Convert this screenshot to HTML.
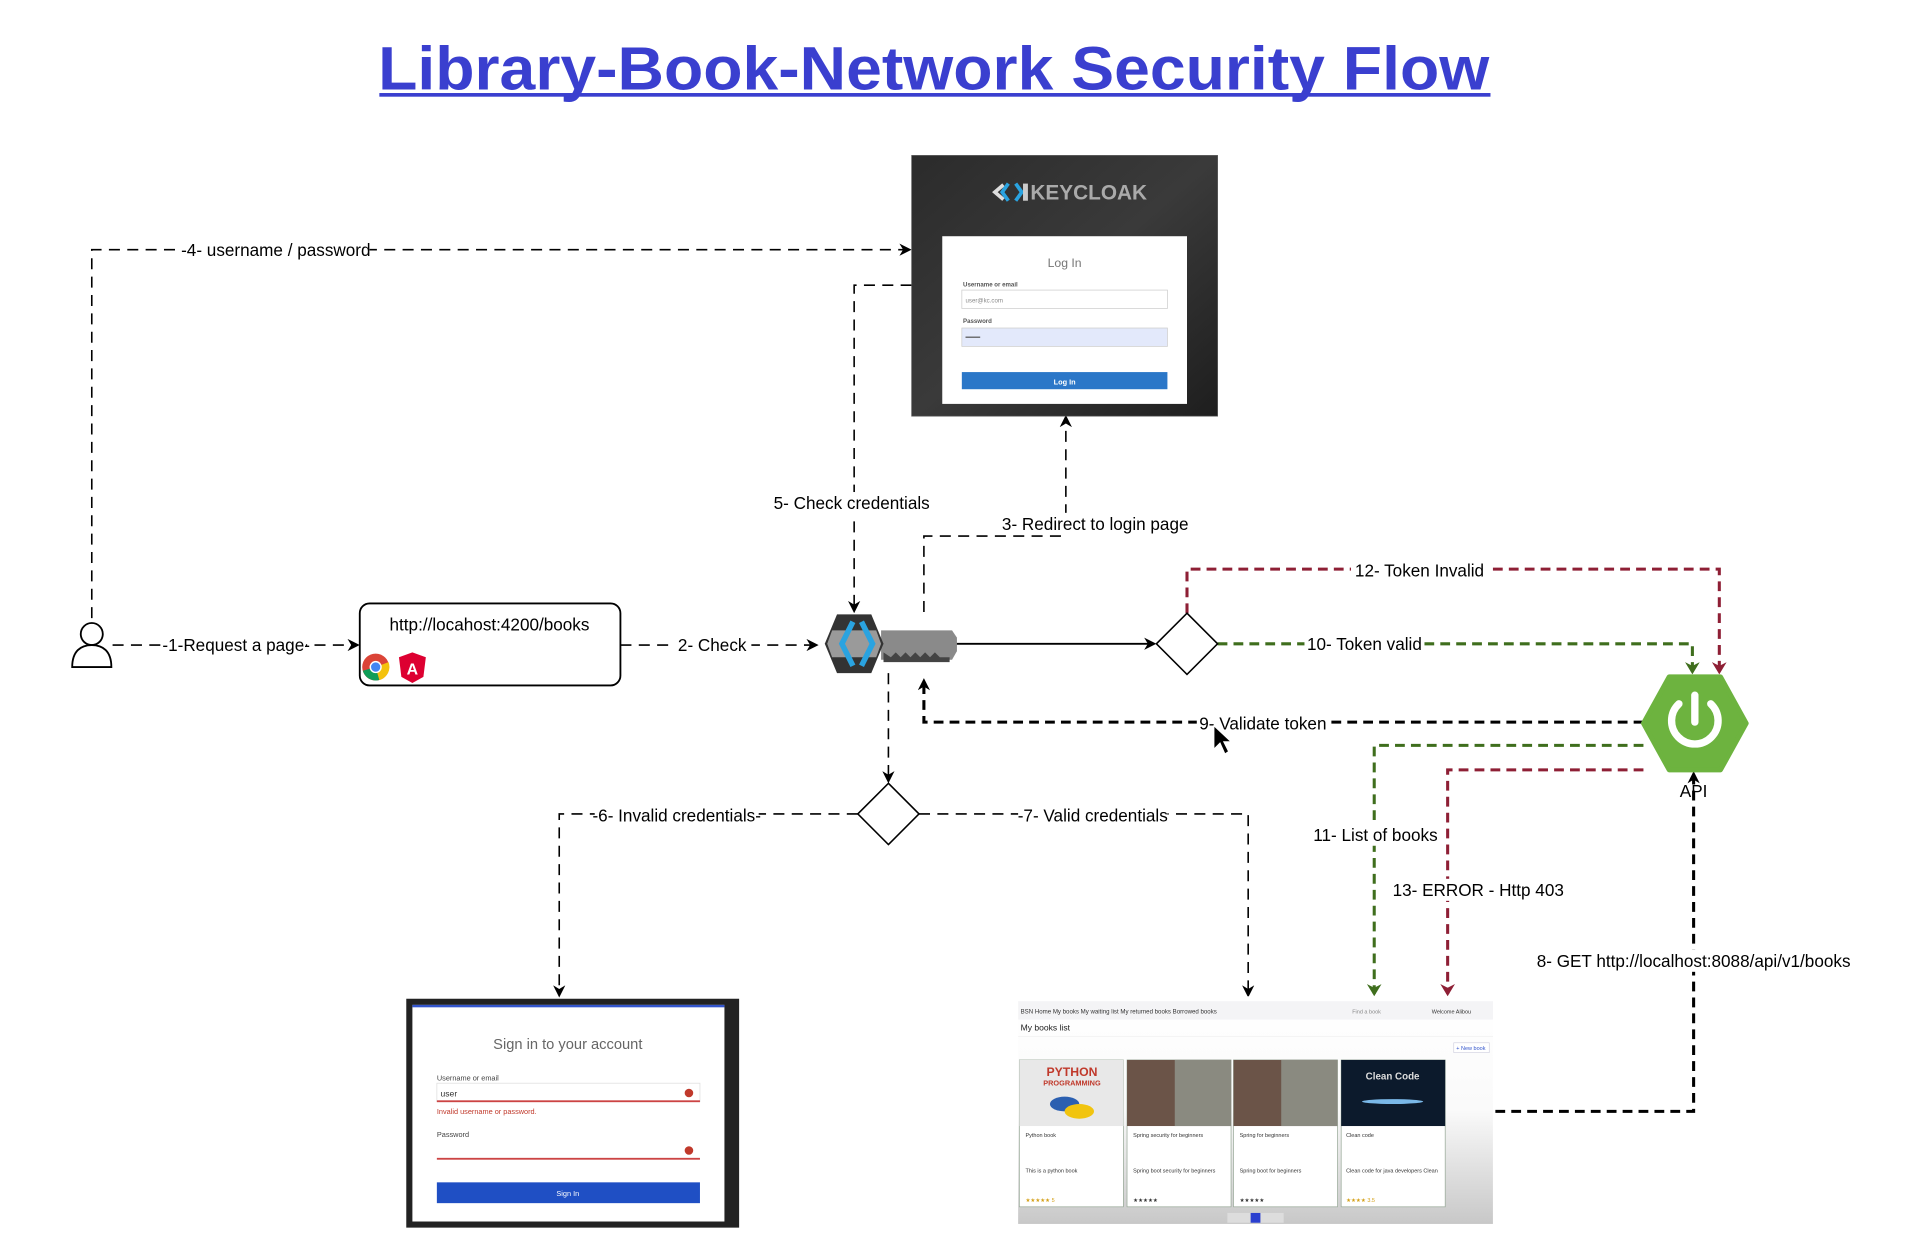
<!DOCTYPE html>
<html><head><meta charset="utf-8"><style>
html,body{margin:0;padding:0;background:#fff;}
svg{display:block}
text{font-family:"Liberation Sans",sans-serif;}
</style></head><body>
<svg width="1920" height="1257" viewBox="0 0 1569 1027" preserveAspectRatio="none" xmlns="http://www.w3.org/2000/svg">
<defs>
<marker id="ab" markerWidth="10" markerHeight="10" refX="8" refY="5" orient="auto" markerUnits="userSpaceOnUse"><path d="M0,0 L10,5 L0,10 L3,5 z" fill="#000"/></marker>
<marker id="ag" markerWidth="10" markerHeight="12" refX="8" refY="6" orient="auto" markerUnits="userSpaceOnUse"><path d="M0,0 L10,6 L0,12 L3,6 z" fill="#3f6e1d"/></marker>
<marker id="ar" markerWidth="10" markerHeight="12" refX="8" refY="6" orient="auto" markerUnits="userSpaceOnUse"><path d="M0,0 L10,6 L0,12 L3,6 z" fill="#8e1f35"/></marker>
<linearGradient id="kc" x1="0" y1="0" x2="1" y2="1"><stop offset="0" stop-color="#2b2b2b"/><stop offset="0.5" stop-color="#3a3a3a"/><stop offset="1" stop-color="#1e1e1e"/></linearGradient>
<linearGradient id="bk" x1="0" y1="0" x2="0" y2="1"><stop offset="0" stop-color="#fff"/><stop offset="0.5" stop-color="#fafafa"/><stop offset="1" stop-color="#c8c8c8"/></linearGradient>
</defs>

<!-- Title -->
<text x="763" y="73" text-anchor="middle" font-size="50" font-weight="bold" fill="#3a3fcf" textLength="908" lengthAdjust="spacingAndGlyphs">Library-Book-Network Security Flow</text>
<rect x="310" y="76" width="908" height="3" fill="#3a3fcf"/>

<g font-size="14" fill="#000">
<g fill="none" stroke="#000" stroke-width="1.3" stroke-dasharray="9,6">
<path d="M75,505 V204 H743" marker-end="url(#ab)"/>
<path d="M92,527 H292" marker-end="url(#ab)"/>
<path d="M507,527 H667" marker-end="url(#ab)"/>
<path d="M755,500 V438 H871 V341" marker-end="url(#ab)"/>
<path d="M745,233 H698 V499" marker-end="url(#ab)"/>
<path d="M726,550 V638" marker-end="url(#ab)"/>
<path d="M701,665 H457 V813" marker-end="url(#ab)"/>
<path d="M751,665 H1020 V813" marker-end="url(#ab)"/>
</g>
<path d="M780,526 H943" stroke="#000" stroke-width="1.5" fill="none" marker-end="url(#ab)"/>
<g fill="none" stroke="#000" stroke-width="2.5" stroke-dasharray="8,5">
<path d="M1343,590 H755 V556" marker-end="url(#ab)"/>
<path d="M1222,908 H1384 V632" marker-end="url(#ab)"/>
</g>
<g fill="none" stroke-width="2.5" stroke-dasharray="8,5">
<path d="M995,526 H1383 V549" stroke="#3f6e1d" marker-end="url(#ag)"/>
<path d="M970,501 V465 H1405 V549" stroke="#8e1f35" marker-end="url(#ar)"/>
<path d="M1343,609 H1123 V812" stroke="#3f6e1d" marker-end="url(#ag)"/>
<path d="M1343,629 H1183 V812" stroke="#8e1f35" marker-end="url(#ar)"/>
</g>

<g font-size="14">
<rect x="146" y="195" width="156" height="18" fill="#fff"/><text x="148" y="209">-4- username / password</text>
<rect x="136" y="518" width="114" height="18" fill="#fff"/><text x="193" y="532" text-anchor="middle">-1-Request a page-</text>
<rect x="550" y="518" width="64" height="18" fill="#fff"/><text x="582" y="532" text-anchor="middle">2- Check</text>
<rect x="632" y="402" width="130" height="18" fill="#fff"/><text x="696" y="416" text-anchor="middle">5- Check credentials</text>
<rect x="818" y="419" width="154" height="18" fill="#fff"/><text x="895" y="433" text-anchor="middle">3- Redirect to login page</text>
<rect x="1104" y="457" width="112" height="18" fill="#fff"/><text x="1160" y="471" text-anchor="middle">12- Token Invalid</text>
<rect x="1066" y="517" width="98" height="18" fill="#fff"/><text x="1115" y="531" text-anchor="middle">10- Token valid</text>
<rect x="978" y="582" width="108" height="18" fill="#fff"/><text x="1032" y="596" text-anchor="middle">9- Validate token</text>
<rect x="486" y="657" width="134" height="18" fill="#fff"/><text x="553" y="671" text-anchor="middle">-6- Invalid credentials-</text>
<rect x="832" y="657" width="122" height="18" fill="#fff"/><text x="893" y="671" text-anchor="middle">-7- Valid credentials</text>
<rect x="1072" y="673" width="104" height="18" fill="#fff"/><text x="1124" y="687" text-anchor="middle">11- List of books</text>
<rect x="1137" y="718" width="142" height="18" fill="#fff"/><text x="1208" y="732" text-anchor="middle">13- ERROR - Http 403</text>
<rect x="1256" y="776" width="256" height="18" fill="#fff"/><text x="1384" y="790" text-anchor="middle">8- GET http://localhost:8088/api/v1/books</text>
<text x="1384" y="651" text-anchor="middle">API</text>
</g>
</g>

<path d="M992,593 L992,612 L997,607 L1001,616 L1004,614 L1000,606 L1006,606 z" fill="#000" stroke="#fff" stroke-width="0.8"/>

<circle cx="75" cy="518" r="9" fill="#fff" stroke="#000" stroke-width="1.5"/>
<path d="M59,545 C59,532 66,527 75,527 C84,527 91,532 91,545 z" fill="#fff" stroke="#000" stroke-width="1.5"/>

<rect x="294" y="493" width="213" height="67" rx="8" fill="#fff" stroke="#000" stroke-width="1.5"/>
<text x="400" y="515" text-anchor="middle" font-size="14">http://locahost:4200/books</text>
<circle cx="307" cy="545" r="11" fill="#db4437"/>
<path d="M307,545 L296.5,548 A11,11 0 0 0 310,555.6 z" fill="#0f9d58"/>
<path d="M307,545 L310,555.6 A11,11 0 0 0 317.5,541 z" fill="#f4c20d"/>
<circle cx="307" cy="545" r="5" fill="#fff"/><circle cx="307" cy="545" r="3.8" fill="#4285f4"/>
<path d="M337,533 L348,537 L346,553 L337,558 L328,553 L326,537 z" fill="#dd0031"/>
<text x="337" y="551" text-anchor="middle" font-size="13" fill="#fff" font-weight="bold">A</text>

<path d="M720,515 H778 L782,521 V532 L778,539 H720 z" fill="#8a8a8a"/>
<path d="M722,533 L728,537 L732,533 L736,537 L740,533 L744,537 L748,533 L752,537 L756,533 L760,537 L764,533 L768,537 H776 V541 H722 z" fill="#444"/>
<path d="M684,502 H712 L722,526 L712,550 H684 L674,526 z" fill="#333"/>
<path d="M680,515 H716 L720,526 L716,537 H680 L676,526 z" fill="#9a9a9a"/>
<path d="M697,508 L688,526 L697,544" fill="none" stroke="#2aa3e0" stroke-width="4.5"/>
<path d="M704,508 L713,526 L704,544" fill="none" stroke="#2aa3e0" stroke-width="4.5"/>

<path d="M970,501 L995,526 L970,551 L945,526 z" fill="#fff" stroke="#000" stroke-width="1.3"/>
<path d="M726,640 L751,665 L726,690 L701,665 z" fill="#fff" stroke="#000" stroke-width="1.3"/>

<path d="M1364,553 H1406 L1427,591 L1406,629 H1364 L1343,591 z" fill="#6db33f" stroke="#6db33f" stroke-width="4" stroke-linejoin="round"/>
<path d="M1372,575 A19,19 0 1 0 1398,575" fill="none" stroke="#fff" stroke-width="6" stroke-linecap="round"/>
<line x1="1385" y1="568" x2="1385" y2="590" stroke="#fff" stroke-width="6" stroke-linecap="round"/>

<rect x="745" y="127" width="250" height="213" fill="url(#kc)" stroke="#555" stroke-width="0.6"/>
<path d="M820,151 L813,157 L820,163" fill="none" stroke="#ddd" stroke-width="3"/>
<path d="M824,150 L819,157 L824,164" fill="none" stroke="#2aa3e0" stroke-width="3"/>
<path d="M830,150 L835,157 L830,164" fill="none" stroke="#2aa3e0" stroke-width="3"/>
<rect x="836" y="150" width="4" height="14" fill="#ccc"/>
<text x="842" y="163" font-size="17" font-weight="bold" fill="#aaa">KEYCLOAK</text>
<rect x="770" y="193" width="200" height="137" fill="#fff"/>
<text x="870" y="218" text-anchor="middle" font-size="10" fill="#777">Log In</text>
<text x="787" y="234" font-size="5" fill="#555" font-weight="bold">Username or email</text>
<rect x="786" y="237" width="168" height="15" fill="#fff" stroke="#ccc" stroke-width="0.6"/>
<text x="789" y="247" font-size="5" fill="#888">user@kc.com</text>
<text x="787" y="264" font-size="5" fill="#555" font-weight="bold">Password</text>
<rect x="786" y="268" width="168" height="15" fill="#e3e9fb" stroke="#ccc" stroke-width="0.6"/>
<rect x="789" y="275" width="12" height="1" fill="#555"/>
<rect x="786" y="304" width="168" height="14" fill="#2b77c8"/>
<text x="870" y="314" text-anchor="middle" font-size="6" fill="#fff" font-weight="bold">Log In</text>

<rect x="332" y="816" width="272" height="187" fill="#222"/>
<rect x="337" y="821" width="255" height="177" fill="#fff"/>
<rect x="337" y="821" width="255" height="2" fill="#3355cc"/>
<text x="464" y="857" text-anchor="middle" font-size="12" fill="#666">Sign in to your account</text>
<text x="357" y="883" font-size="6" fill="#444">Username or email</text>
<rect x="357" y="885" width="215" height="15" fill="#fff" stroke="#ddd" stroke-width="0.6"/>
<rect x="357" y="899" width="215" height="1.5" fill="#c44"/>
<text x="360" y="896" font-size="7" fill="#333">user</text>
<circle cx="563" cy="893" r="3.5" fill="#c0392b"/>
<text x="357" y="910" font-size="6" fill="#c0392b">Invalid username or password.</text>
<text x="357" y="929" font-size="6" fill="#444">Password</text>
<rect x="357" y="932" width="215" height="15" fill="#fff"/>
<rect x="357" y="946" width="215" height="1.5" fill="#c44"/>
<circle cx="563" cy="940" r="3.5" fill="#c0392b"/>
<rect x="357" y="966" width="215" height="17" fill="#1f4fc4"/>
<text x="464" y="977" text-anchor="middle" font-size="6" fill="#fff">Sign In</text>

<rect x="832" y="814" width="388" height="186" fill="url(#bk)"/>
<rect x="832" y="818" width="388" height="15" fill="#f4f4f6"/>
<text x="834" y="828" font-size="5" fill="#333">BSN   Home   My books   My waiting list   My returned books   Borrowed books</text>
<text x="1105" y="828" font-size="4.5" fill="#888">Find a book</text>
<text x="1170" y="828" font-size="4.5" fill="#333">Welcome Alibou</text>
<text x="834" y="842" font-size="7" fill="#222">My books list</text>
<line x1="832" y1="847" x2="1220" y2="847" stroke="#eee" stroke-width="0.5"/>
<rect x="1188" y="852" width="29" height="8" fill="#fff" stroke="#ccd" stroke-width="0.5"/>
<text x="1202" y="858" text-anchor="middle" font-size="4.5" fill="#3355cc">+ New book</text>
<g stroke="#9a9" stroke-width="0.6">
<rect x="833" y="866" width="85" height="120" fill="#fff"/>
<rect x="921" y="866" width="85" height="120" fill="#fff"/>
<rect x="1008" y="866" width="85" height="120" fill="#fff"/>
<rect x="1096" y="866" width="85" height="120" fill="#fff"/>
</g>
<rect x="833" y="866" width="85" height="54" fill="#e8e8e8"/>
<text x="876" y="879" text-anchor="middle" font-size="10" font-weight="bold" fill="#c0392b">PYTHON</text>
<text x="876" y="887" text-anchor="middle" font-size="6" font-weight="bold" fill="#c0392b">PROGRAMMING</text>
<ellipse cx="870" cy="902" rx="12" ry="6" fill="#2b5fb0"/><ellipse cx="882" cy="908" rx="12" ry="6" fill="#f1c40f"/>
<rect x="921" y="866" width="85" height="54" fill="#6b5448"/><rect x="960" y="866" width="46" height="54" fill="#8a8a80"/>
<rect x="1008" y="866" width="85" height="54" fill="#6b5448"/><rect x="1047" y="866" width="46" height="54" fill="#8a8a80"/>
<rect x="1096" y="866" width="85" height="54" fill="#0c1a2c"/>
<text x="1138" y="882" text-anchor="middle" font-size="8" font-weight="bold" fill="#ddd">Clean Code</text>
<ellipse cx="1138" cy="900" rx="25" ry="2" fill="#7ab8e8"/>
<g font-size="4.5" fill="#333">
<text x="838" y="929">Python book</text><text x="838" y="958">This is a python book</text>
<text x="926" y="929">Spring security for beginners</text><text x="926" y="958">Spring boot security for beginners</text>
<text x="1013" y="929">Spring for beginners</text><text x="1013" y="958">Spring boot for beginners</text>
<text x="1100" y="929">Clean code</text><text x="1100" y="958">Clean code for java developers Clean</text>
<text x="838" y="982" fill="#d4a017">★★★★★ 5</text><text x="926" y="982">★★★★★</text><text x="1013" y="982">★★★★★</text><text x="1100" y="982" fill="#d4a017">★★★★ 3.5</text>
</g>
<rect x="1003" y="991" width="46" height="8" fill="#ddd"/><rect x="1022" y="991" width="8" height="8" fill="#2a3fcf"/>
</svg>
</body></html>
